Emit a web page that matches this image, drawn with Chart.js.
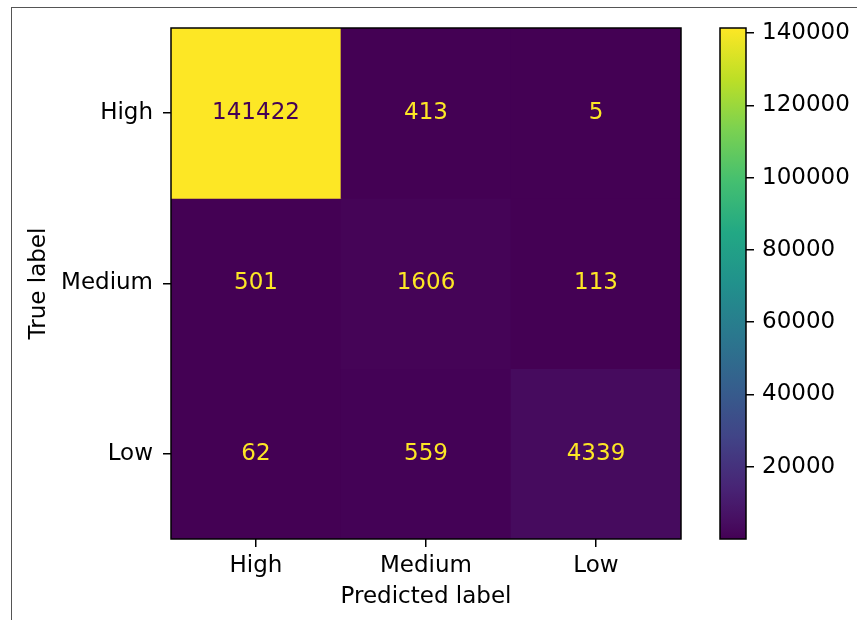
<!DOCTYPE html>
<html>
<head>
<meta charset="utf-8">
<script src="https://cdn.jsdelivr.net/npm/chart.js@4.4.1/dist/chart.umd.min.js"></script>
<style>
  html, body { margin: 0; padding: 0; background: #fff; }
  #wrap { position: relative; width: 857px; height: 620px; overflow: hidden; background: #fff; }
  #frame { position: absolute; left: 11px; top: 7px; width: 900px; height: 700px;
           border-top: 1px solid #555; border-left: 1px solid #555; }
  #main { position: absolute; left: 0; top: 0; }
  #cbar { position: absolute; left: 700px; top: 0; }
</style>
</head>
<body>
<div id="wrap">
  <div id="frame"></div>
  <canvas id="main" width="700" height="620"></canvas>
  <canvas id="cbar" width="157" height="620"></canvas>
</div>
<script>
// Class labels
const trueLabels = ['High', 'Medium', 'Low'];
const predictedLabels = ['High', 'Medium', 'Low'];

// Confusion matrix counts, one array per true label (columns = predicted label)
const countsHigh = [141422, 413, 5];
const countsMedium = [501, 1606, 113];
const countsLow = [62, 559, 4339];

// Colour bar tick values
const colorbarTicks = [20000, 40000, 60000, 80000, 100000, 120000, 140000];

const matrix = [countsHigh, countsMedium, countsLow];
const allCounts = matrix.flat();
const vmin = Math.min(...allCounts);
const vmax = Math.max(...allCounts);

// Viridis colour map stops (position, colour)
const VIRIDIS = [
  [0 / 255, '#440154'], [1 / 255, '#440256'], [2 / 255, '#450457'], [3 / 255, '#450559'],
  [4 / 255, '#46075a'], [5 / 255, '#46085c'], [6 / 255, '#460a5d'], [7 / 255, '#460b5e'],
  [8 / 255, '#470d60'], [0.1, '#482475'], [0.2, '#414487'], [0.3, '#355f8d'],
  [0.4, '#2a788e'], [0.5, '#21918c'], [0.6, '#22a884'], [0.7, '#44bf70'],
  [0.8, '#7ad151'], [0.9, '#bddf26'], [1.0, '#fde725']
];

function hexToRgb(h) {
  return [parseInt(h.slice(1, 3), 16), parseInt(h.slice(3, 5), 16), parseInt(h.slice(5, 7), 16)];
}

function viridis(t) {
  t = Math.max(0, Math.min(1, t));
  for (let i = 1; i < VIRIDIS.length; i++) {
    if (t <= VIRIDIS[i][0]) {
      const [p0, c0] = VIRIDIS[i - 1];
      const [p1, c1] = VIRIDIS[i];
      const f = (t - p0) / (p1 - p0);
      const a = hexToRgb(c0), b = hexToRgb(c1);
      const rgb = a.map((v, k) => Math.round(v + (b[k] - v) * f));
      return `rgb(${rgb[0]},${rgb[1]},${rgb[2]})`;
    }
  }
  return VIRIDIS[VIRIDIS.length - 1][1];
}

// Lookup a count in the 256-entry colour table
function cellColor(v) {
  const t = (v - vmin) / (vmax - vmin);
  const idx = Math.min(255, Math.floor(t * 256));
  return viridis(idx / 255);
}

const FONT = 'DejaVu Sans';
const FONT_SIZE = 23;
Chart.defaults.font.family = FONT;
Chart.defaults.font.size = FONT_SIZE;
Chart.defaults.color = '#000';

const axesFrame = {
  id: 'axesFrame',
  afterDatasetsDraw(chart) {
    const { ctx, chartArea: a } = chart;
    ctx.save();
    ctx.strokeStyle = '#000';
    ctx.lineWidth = 1.5;
    ctx.strokeRect(a.left, a.top, a.right - a.left, a.bottom - a.top);
    ctx.restore();
  }
};

const threshold = (vmax + vmin) / 2;
const cellText = {
  id: 'cellText',
  afterDatasetsDraw(chart) {
    const { ctx } = chart;
    ctx.save();
    ctx.font = `${FONT_SIZE}px "${FONT}"`;
    ctx.textAlign = 'center';
    ctx.textBaseline = 'middle';
    chart.data.datasets.forEach((ds, r) => {
      const meta = chart.getDatasetMeta(r);
      meta.data.forEach((bar, c) => {
        const v = matrix[r][c];
        ctx.fillStyle = v < threshold ? viridis(1) : viridis(0);
        ctx.fillText(String(v), bar.x, (bar.y + bar.base) / 2);
      });
    });
    ctx.restore();
  }
};

// Each true-label row is one dataset of floating bars spanning one unit
const datasets = matrix.map((row, r) => ({
  label: trueLabels[r],
  data: row.map(() => [r, r + 1]),
  backgroundColor: row.map(cellColor),
  borderWidth: 0,
  barPercentage: 1,
  categoryPercentage: 1,
  grouped: false
}));

new Chart(document.getElementById('main'), {
  type: 'bar',
  data: { labels: predictedLabels, datasets },
  plugins: [axesFrame, cellText],
  options: {
    responsive: false,
    animation: false,
    devicePixelRatio: 1,
    layout: { padding: { left: 12, top: 28, right: 19, bottom: 0 } },
    plugins: { legend: { display: false }, tooltip: { enabled: false } },
    scales: {
      x: {
        type: 'category',
        offset: true,
        grid: { display: true, drawOnChartArea: false, drawTicks: true, tickLength: 8,
                color: '#000', lineWidth: 1.5, offset: false },
        border: { display: false },
        ticks: { padding: 5, maxRotation: 0, color: '#000' },
        title: { display: true, text: 'Predicted label', color: '#000', padding: { top: 0, bottom: 9 } },
        afterFit(scale) { scale.height = 81; }
      },
      y: {
        type: 'linear',
        min: 0,
        max: trueLabels.length,
        reverse: true,
        grid: { display: true, drawOnChartArea: false, drawTicks: true, tickLength: 8,
                color: '#000', lineWidth: 1.5 },
        border: { display: false },
        afterBuildTicks(scale) {
          scale.ticks = trueLabels.map((_, i) => ({ value: i + 0.5 }));
        },
        ticks: {
          padding: 10,
          color: '#000',
          callback: (v) => trueLabels[Math.floor(v)]
        },
        title: { display: true, text: 'True label', color: '#000', padding: { top: 13, bottom: 0 } },
        afterFit(scale) { scale.width = 159; }
      }
    }
  }
});

// Colour bar: one floating bar from the minimum to the maximum count
new Chart(document.getElementById('cbar'), {
  type: 'bar',
  data: {
    labels: [''],
    datasets: [{
      data: [[vmin, vmax]],
      backgroundColor(ctx) {
        const area = ctx.chart.chartArea;
        if (!area) return viridis(0);
        const g = ctx.chart.ctx.createLinearGradient(0, area.bottom, 0, area.top);
        VIRIDIS.forEach(([p, c]) => g.addColorStop(p, c));
        return g;
      },
      borderWidth: 0,
      barPercentage: 1,
      categoryPercentage: 1
    }]
  },
  plugins: [axesFrame],
  options: {
    responsive: false,
    animation: false,
    devicePixelRatio: 1,
    layout: { padding: { left: 20, top: 28, right: 0, bottom: 81 } },
    plugins: { legend: { display: false }, tooltip: { enabled: false } },
    scales: {
      x: { display: false },
      y: {
        position: 'right',
        min: vmin,
        max: vmax,
        grid: { display: true, drawOnChartArea: false, drawTicks: true, tickLength: 8,
                color: '#000', lineWidth: 1.5 },
        border: { display: false },
        afterBuildTicks(scale) {
          scale.ticks = colorbarTicks.map(v => ({ value: v }));
        },
        ticks: { padding: 8, color: '#000', callback: (v) => String(v) },
        afterFit(scale) { scale.width = 111; }
      }
    }
  }
});
</script>
</body>
</html>
